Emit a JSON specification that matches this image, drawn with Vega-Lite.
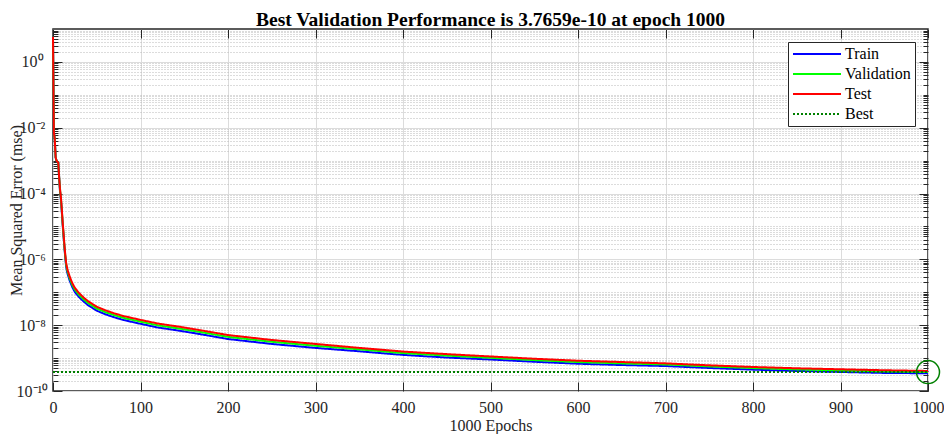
{
  "$schema": "https://vega.github.io/schema/vega-lite/v6.json",
  "width": 875,
  "height": 362,
  "autosize": {"type": "none"},
  "padding": {"left": 53, "top": 29, "right": 16, "bottom": 43},
  "background": "white",
  "title": {
    "text": "Best Validation Performance is 3.7659e-10 at epoch 1000",
    "font": "Liberation Serif",
    "fontSize": 19.5,
    "fontWeight": "bold",
    "color": "black",
    "anchor": "middle",
    "baseline": "alphabetic",
    "offset": -17
  },
  "config": {
    "view": {"stroke": "#262626", "strokeWidth": 1.5},
    "axis": {
      "labelFont": "Liberation Serif",
      "titleFont": "Liberation Serif",
      "labelFontSize": 16,
      "titleFontSize": 16,
      "labelColor": "#262626",
      "titleColor": "#262626",
      "titleFontWeight": "normal",
      "domain": false,
      "tickColor": "#262626",
      "tickWidth": 1,
      "labelFlush": false,
      "labelOverlap": false
    }
  },
  "datasets": {
    "perf": [
      {"epoch": 0, "Train": 5.82, "Validation": 5.82, "Test": 5.82, "Best": 3.7659e-10},
      {"epoch": 1, "Train": 7.24e-3, "Validation": 7.24e-3, "Test": 7.24e-3},
      {"epoch": 2, "Train": 4.47e-3, "Validation": 4.47e-3, "Test": 4.47e-3},
      {"epoch": 3, "Train": 1.26e-3, "Validation": 1.26e-3, "Test": 1.26e-3},
      {"epoch": 4, "Train": 1.0e-3, "Validation": 1.0e-3, "Test": 1.0e-3},
      {"epoch": 5, "Train": 9.33e-4, "Validation": 9.33e-4, "Test": 9.33e-4},
      {"epoch": 6, "Train": 8.71e-4, "Validation": 8.71e-4, "Test": 8.71e-4},
      {"epoch": 7, "Train": 3.16e-4, "Validation": 3.16e-4, "Test": 3.16e-4},
      {"epoch": 8, "Train": 1.17e-4, "Validation": 1.29e-4, "Test": 1.41e-4},
      {"epoch": 9, "Train": 6.61e-5, "Validation": 7.24e-5, "Test": 7.94e-5},
      {"epoch": 10, "Train": 2.95e-5, "Validation": 3.24e-5, "Test": 3.55e-5},
      {"epoch": 11, "Train": 1.17e-5, "Validation": 1.29e-5, "Test": 1.41e-5},
      {"epoch": 12, "Train": 5.25e-6, "Validation": 5.75e-6, "Test": 6.31e-6},
      {"epoch": 13, "Train": 2.35e-6, "Validation": 2.57e-6, "Test": 2.82e-6},
      {"epoch": 14, "Train": 1.17e-6, "Validation": 1.29e-6, "Test": 1.41e-6},
      {"epoch": 15, "Train": 6.03e-7, "Validation": 7.0e-7, "Test": 7.94e-7},
      {"epoch": 16, "Train": 4.27e-7, "Validation": 4.95e-7, "Test": 5.62e-7},
      {"epoch": 17, "Train": 3.39e-7, "Validation": 3.94e-7, "Test": 4.47e-7},
      {"epoch": 19, "Train": 2.29e-7, "Validation": 2.66e-7, "Test": 3.02e-7},
      {"epoch": 22, "Train": 1.45e-7, "Validation": 1.68e-7, "Test": 1.91e-7},
      {"epoch": 25, "Train": 1.02e-7, "Validation": 1.19e-7, "Test": 1.35e-7},
      {"epoch": 30, "Train": 7.08e-8, "Validation": 8.22e-8, "Test": 9.33e-8},
      {"epoch": 35, "Train": 5.25e-8, "Validation": 6.10e-8, "Test": 6.92e-8},
      {"epoch": 40, "Train": 4.08e-8, "Validation": 4.73e-8, "Test": 5.37e-8},
      {"epoch": 50, "Train": 2.76e-8, "Validation": 3.20e-8, "Test": 3.63e-8},
      {"epoch": 60, "Train": 2.14e-8, "Validation": 2.48e-8, "Test": 2.82e-8},
      {"epoch": 70, "Train": 1.74e-8, "Validation": 2.02e-8, "Test": 2.29e-8},
      {"epoch": 80, "Train": 1.45e-8, "Validation": 1.68e-8, "Test": 1.91e-8},
      {"epoch": 100, "Train": 1.10e-8, "Validation": 1.28e-8, "Test": 1.45e-8},
      {"epoch": 120, "Train": 8.50e-9, "Validation": 9.87e-9, "Test": 1.12e-8},
      {"epoch": 145, "Train": 6.76e-9, "Validation": 7.85e-9, "Test": 8.91e-9},
      {"epoch": 170, "Train": 5.25e-9, "Validation": 6.10e-9, "Test": 6.92e-9},
      {"epoch": 200, "Train": 3.80e-9, "Validation": 4.41e-9, "Test": 5.01e-9},
      {"epoch": 250, "Train": 2.69e-9, "Validation": 3.13e-9, "Test": 3.55e-9},
      {"epoch": 300, "Train": 2.04e-9, "Validation": 2.37e-9, "Test": 2.69e-9},
      {"epoch": 350, "Train": 1.61e-9, "Validation": 1.84e-9, "Test": 2.04e-9},
      {"epoch": 400, "Train": 1.25e-9, "Validation": 1.42e-9, "Test": 1.58e-9},
      {"epoch": 450, "Train": 1.04e-9, "Validation": 1.19e-9, "Test": 1.32e-9},
      {"epoch": 500, "Train": 9.07e-10, "Validation": 1.02e-9, "Test": 1.12e-9},
      {"epoch": 550, "Train": 7.74e-10, "Validation": 8.69e-10, "Test": 9.55e-10},
      {"epoch": 600, "Train": 6.74e-10, "Validation": 7.57e-10, "Test": 8.32e-10},
      {"epoch": 650, "Train": 6.15e-10, "Validation": 6.91e-10, "Test": 7.59e-10},
      {"epoch": 700, "Train": 5.74e-10, "Validation": 6.40e-10, "Test": 6.92e-10},
      {"epoch": 750, "Train": 5.00e-10, "Validation": 5.58e-10, "Test": 6.03e-10},
      {"epoch": 800, "Train": 4.46e-10, "Validation": 4.97e-10, "Test": 5.37e-10},
      {"epoch": 850, "Train": 4.07e-10, "Validation": 4.53e-10, "Test": 4.90e-10},
      {"epoch": 900, "Train": 3.79e-10, "Validation": 4.23e-10, "Test": 4.57e-10},
      {"epoch": 950, "Train": 3.54e-10, "Validation": 3.95e-10, "Test": 4.27e-10},
      {"epoch": 1000, "Train": 3.46e-10, "Validation": 3.7659e-10, "Test": 4.07e-10, "Best": 3.7659e-10}
    ],
    "best": [{"epoch": 1000, "mse": 3.7659e-10}]
  },
  "resolve": {"axis": {"x": "independent", "y": "independent"}},
  "layer": [
    {
      "data": {"name": "perf"},
      "transform": [
        {"fold": ["Train", "Validation", "Test", "Best"], "as": ["series", "mse"]},
        {"filter": "isValid(datum.mse)"}
      ],
      "mark": {"type": "line", "strokeWidth": 2},
      "encoding": {
        "x": {
          "field": "epoch", "type": "quantitative",
          "scale": {"domain": [0, 1000], "nice": false, "zero": false},
          "axis": {
            "orient": "bottom",
            "values": [0, 100, 200, 300, 400, 500, 600, 700, 800, 900, 1000],
            "format": "d",
            "title": "1000 Epochs",
            "ticks": false,
            "labelPadding": 8,
            "grid": true,
            "gridColor": "#dcdcdc",
            "gridWidth": 1,
            "titleY": 26,
            "titleBaseline": "top"
          }
        },
        "y": {
          "field": "mse", "type": "quantitative",
          "scale": {"type": "log", "domain": [1e-10, 10], "nice": false},
          "axis": {
            "orient": "left",
            "values": [1e-10, 1e-8, 1e-6, 1e-4, 1e-2, 1],
            "labelExpr": "datum.value < 5e-10 ? '10⁻¹⁰' : datum.value < 5e-8 ? '10⁻⁸' : datum.value < 5e-6 ? '10⁻⁶' : datum.value < 5e-4 ? '10⁻⁴' : datum.value < 5e-2 ? '10⁻²' : '10⁰'",
            "ticks": false,
            "labelPadding": 21,
            "labelAlign": "center",
            "grid": true,
            "gridColor": "#dcdcdc",
            "gridWidth": 1,
            "title": "Mean Squared Error  (mse)",
            "titleX": -36.5,
            "titleY": 181,
            "titleBaseline": "middle"
          }
        },
        "color": {
          "field": "series", "type": "nominal",
          "scale": {"domain": ["Train", "Validation", "Test", "Best"], "range": ["#0000ff", "#00ff00", "#ff0000", "#008000"]},
          "legend": {
            "title": null, "orient": "top-right", "offset": 13, "padding": 4,
            "fillColor": "white", "strokeColor": "#262626",
            "labelFont": "Liberation Serif", "labelFontSize": 16, "labelColor": "black",
            "symbolType": "stroke", "symbolSize": 2304, "symbolStrokeWidth": 2,
            "clipHeight": 16, "rowPadding": 4, "labelOffset": 3
          }
        },
        "strokeDash": {
          "field": "series", "type": "nominal",
          "scale": {"domain": ["Train", "Validation", "Test", "Best"], "range": [[1, 0], [1, 0], [1, 0], [2, 2]]},
          "legend": {
            "title": null, "orient": "top-right", "offset": 13, "padding": 4,
            "fillColor": "white", "strokeColor": "#262626",
            "labelFont": "Liberation Serif", "labelFontSize": 16, "labelColor": "black",
            "symbolType": "stroke", "symbolSize": 2304, "symbolStrokeWidth": 2,
            "clipHeight": 16, "rowPadding": 4, "labelOffset": 3
          }
        }
      }
    },
    {
      "data": {"name": "best"},
      "mark": {"type": "point", "opacity": 0},
      "encoding": {
        "x": {"field": "epoch", "type": "quantitative", "axis": {"orient": "bottom", "values": [0, 100, 200, 300, 400, 500, 600, 700, 800, 900, 1000], "labels": false, "tickSize": -9, "grid": false, "title": null}},
        "y": {"field": "mse", "type": "quantitative", "axis": {"orient": "left", "values": [1e-10, 1e-8, 1e-6, 1e-4, 1e-2, 1], "labels": false, "tickSize": -9, "grid": false, "title": null}}
      }
    },
    {
      "data": {"name": "best"},
      "mark": {"type": "point", "opacity": 0},
      "encoding": {
        "x": {"field": "epoch", "type": "quantitative", "axis": {"orient": "top", "values": [0, 100, 200, 300, 400, 500, 600, 700, 800, 900, 1000], "labels": false, "tickSize": -9, "grid": false, "title": null}},
        "y": {"field": "mse", "type": "quantitative", "axis": {"orient": "right", "values": [1e-10, 1e-8, 1e-6, 1e-4, 1e-2, 1], "labels": false, "tickSize": -9, "grid": false, "title": null}}
      }
    },
    {
      "data": {"name": "best"},
      "mark": {"type": "point", "opacity": 0},
      "encoding": {
        "x": {"field": "epoch", "type": "quantitative", "axis": null},
        "y": {"field": "mse", "type": "quantitative", "axis": {"orient": "left", "values": [2e-10, 3e-10, 4e-10, 5e-10, 6e-10, 7e-10, 8e-10, 9e-10, 1e-9, 2e-9, 3e-9, 4e-9, 5e-9, 6e-9, 7e-9, 8e-9, 9e-9, 2e-8, 3e-8, 4e-8, 5e-8, 6e-8, 7e-8, 8e-8, 9e-8, 1e-7, 2e-7, 3e-7, 4e-7, 5e-7, 6e-7, 7e-7, 8e-7, 9e-7, 2e-6, 3e-6, 4e-6, 5e-6, 6e-6, 7e-6, 8e-6, 9e-6, 1e-5, 2e-5, 3e-5, 4e-5, 5e-5, 6e-5, 7e-5, 8e-5, 9e-5, 2e-4, 3e-4, 4e-4, 5e-4, 6e-4, 7e-4, 8e-4, 9e-4, 1e-3, 2e-3, 3e-3, 4e-3, 5e-3, 6e-3, 7e-3, 8e-3, 9e-3, 2e-2, 3e-2, 4e-2, 5e-2, 6e-2, 7e-2, 8e-2, 9e-2, 1e-1, 2e-1, 3e-1, 4e-1, 5e-1, 6e-1, 7e-1, 8e-1, 9e-1, 2, 3, 4, 5, 6, 7, 8, 9], "labels": false, "tickSize": -5, "grid": true, "gridColor": "#b8b8b8", "gridDash": [1, 2], "gridWidth": 1, "title": null}}
      }
    },
    {
      "data": {"name": "best"},
      "mark": {"type": "point", "opacity": 0},
      "encoding": {
        "x": {"field": "epoch", "type": "quantitative", "axis": null},
        "y": {"field": "mse", "type": "quantitative", "axis": {"orient": "right", "values": [2e-10, 3e-10, 4e-10, 5e-10, 6e-10, 7e-10, 8e-10, 9e-10, 1e-9, 2e-9, 3e-9, 4e-9, 5e-9, 6e-9, 7e-9, 8e-9, 9e-9, 2e-8, 3e-8, 4e-8, 5e-8, 6e-8, 7e-8, 8e-8, 9e-8, 1e-7, 2e-7, 3e-7, 4e-7, 5e-7, 6e-7, 7e-7, 8e-7, 9e-7, 2e-6, 3e-6, 4e-6, 5e-6, 6e-6, 7e-6, 8e-6, 9e-6, 1e-5, 2e-5, 3e-5, 4e-5, 5e-5, 6e-5, 7e-5, 8e-5, 9e-5, 2e-4, 3e-4, 4e-4, 5e-4, 6e-4, 7e-4, 8e-4, 9e-4, 1e-3, 2e-3, 3e-3, 4e-3, 5e-3, 6e-3, 7e-3, 8e-3, 9e-3, 2e-2, 3e-2, 4e-2, 5e-2, 6e-2, 7e-2, 8e-2, 9e-2, 1e-1, 2e-1, 3e-1, 4e-1, 5e-1, 6e-1, 7e-1, 8e-1, 9e-1, 2, 3, 4, 5, 6, 7, 8, 9], "labels": false, "tickSize": -5, "grid": false, "title": null}}
      }
    },
    {
      "data": {"name": "best"},
      "mark": {"type": "point", "shape": "circle", "filled": false, "size": 530, "stroke": "#008000", "strokeWidth": 1.5, "opacity": 1},
      "encoding": {
        "x": {"field": "epoch", "type": "quantitative", "axis": null},
        "y": {"field": "mse", "type": "quantitative", "axis": null}
      }
    }
  ]
}
